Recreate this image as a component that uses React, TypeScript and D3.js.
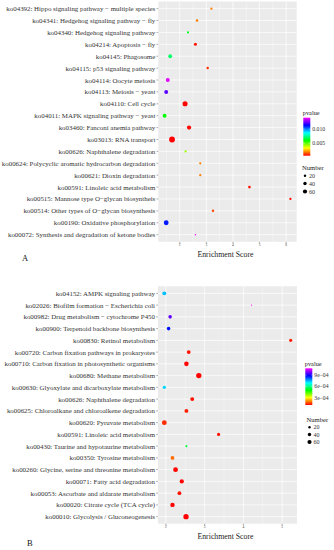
import * as d3 from "d3"

// Panel A
const termsA = [
  "ko04392: Hippo signaling pathway \u2212 multiple species",
  "ko04341: Hedgehog signaling pathway \u2212 fly",
  "ko04340: Hedgehog signaling pathway",
  "ko04214: Apoptosis \u2212 fly",
  "ko04145: Phagosome",
  "ko04115: p53 signaling pathway",
  "ko04114: Oocyte meiosis",
  "ko04113: Meiosis \u2212 yeast",
  "ko04110: Cell cycle",
  "ko04011: MAPK signaling pathway \u2212 yeast",
  "ko03460: Fanconi anemia pathway",
  "ko03013: RNA transport",
  "ko00626: Naphthalene degradation",
  "ko00624: Polycyclic aromatic hydrocarbon degradation",
  "ko00621: Dioxin degradation",
  "ko00591: Linoleic acid metabolism",
  "ko00515: Mannose type O\u2212glycan biosyntheis",
  "ko00514: Other types of O\u2212glycan biosynthesis",
  "ko00190: Oxidative phosphorylation",
  "ko00072: Synthesis and degradation of ketone bodies",
]
const scoreA = [3.19, 2.65, 2.31, 2.59, 1.64, 3.05, 1.55, 1.49, 2.2, 1.43, 2.35, 1.71, 2.22, 2.77, 2.77, 4.62, 6.16, 3.25, 1.49, 2.59]
const pvalA = [0.002, 0.002, 0.0063, 0.0009, 0.0071, 0.0012, 0.0137, 0.0123, 0.0007, 0.006, 0.0008, 0.0007, 0.0044, 0.002, 0.002, 0.0009, 0.0008, 0.0015, 0.0111, 0.014]
const numberA = [10, 12, 9, 18, 28, 12, 30, 30, 50, 30, 35, 65, 10, 10, 10, 14, 10, 12, 45, 4]
const ticksA = [2, 3, 4, 5, 6]
const pTicksA = [0.005, 0.01]

// Panel B
const termsB = [
  "ko04152: AMPK signaling pathway",
  "ko02026: Biofilm formation \u2212 Escherichia coli",
  "ko00982: Drug metabolism \u2212 cytochrome P450",
  "ko00900: Terpenoid backbone biosynthesis",
  "ko00830: Retinol metabolism",
  "ko00720: Carbon fixation pathways in prokaryotes",
  "ko00710: Carbon fixation in photosynthetic organisms",
  "ko00680: Methane metabolism",
  "ko00630: Glyoxylate and dicarboxylate metabolism",
  "ko00626: Naphthalene degradation",
  "ko00625: Chloroalkane and chloroalkene degradation",
  "ko00620: Pyruvate metabolism",
  "ko00591: Linoleic acid metabolism",
  "ko00430: Taurine and hypotaurine metabolism",
  "ko00350: Tyrosine metabolism",
  "ko00260: Glycine, serine and threonine metabolism",
  "ko00071: Fatty acid degradation",
  "ko00053: Ascorbate and aldarate metabolism",
  "ko00020: Citrate cycle (TCA cycle)",
  "ko00010: Glycolysis / Gluconeogenesis",
]
const scoreB = [1.96, 4.21, 2.11, 2.07, 5.22, 2.59, 2.53, 2.85, 1.96, 2.68, 2.53, 1.96, 3.36, 2.53, 2.17, 2.25, 2.41, 2.35, 2.17, 2.52]
const pvalB = [0.00074, 0.00108, 0.00096, 0.00087, 0.00013, 0.00012, 0.00011, 0.000107, 0.00072, 0.00012, 0.00013, 0.00014, 0.00012, 0.00055, 0.00019, 0.00011, 0.00011, 0.00012, 0.00011, 0.000107]
const numberB = [30, 3, 25, 25, 20, 28, 40, 55, 22, 30, 30, 45, 20, 8, 28, 45, 35, 28, 38, 55]
const ticksB = [2, 3, 4, 5]
const pTicksB = [0.0003, 0.0006, 0.0009]

const sizeLegend = [20, 40, 60]

const FONT = "Liberation Serif, Times New Roman, serif"

interface Box {
  left: number
  right: number
  top: number
  bottom: number
}

interface PanelProps {
  id: string
  terms: string[]
  scores: number[]
  pvals: number[]
  numbers: number[]
  ticks: number[]
  pTicks: number[]
  pFormat: (v: number) => string
  box: Box
  bar: { x: number; top: number; bottom: number; titleY: number }
  sizeLeg: { x: number; titleY: number; rows: number[] }
}

const rScale = d3.scaleSqrt().domain([0, 65]).range([0, 2.9])
const hueColor = (f: number) => d3.hsl(f * 300, 1, 0.5).formatHex()

function Panel({ id, terms, scores, pvals, numbers, ticks, pTicks, pFormat, box, bar, sizeLeg }: PanelProps) {
  const [lo, hi] = d3.extent(scores) as [number, number]
  const pad = (hi - lo) * 0.05
  const x = d3.scaleLinear().domain([lo - pad, hi + pad]).range([box.left, box.right])
  const y = d3.scalePoint<string>().domain(terms).range([box.top, box.bottom]).padding(0.6)
  const [pMin, pMax] = d3.extent(pvals) as [number, number]
  const pFrac = d3.scaleLinear().domain([pMin, pMax]).range([0, 1])
  const pY = d3.scaleLinear().domain([pMin, pMax]).range([bar.bottom, bar.top])

  // minor grid lines sit halfway between the major ticks
  const minor = d3.range(Math.floor(x.domain()[0]) + 0.5, x.domain()[1], 1).filter((v) => v > x.domain()[0])
  const stops = d3.range(0, 1.0001, 0.05)
  const rows = terms.map((t, i) => ({ t, s: scores[i], p: pvals[i], n: numbers[i] }))

  return (
    <g>
      <defs>
        <linearGradient id={`grad-${id}`} x1="0" y1="1" x2="0" y2="0">
          {stops.map((f) => (
            <stop key={f} offset={f} stopColor={hueColor(f)} />
          ))}
        </linearGradient>
      </defs>
      <rect x={box.left} y={box.top} width={box.right - box.left} height={box.bottom - box.top} fill="#EBEBEB" />
      {minor.map((v) => (
        <line key={`m${v}`} x1={x(v)} x2={x(v)} y1={box.top} y2={box.bottom} stroke="#fff" strokeWidth={0.35} />
      ))}
      {ticks.map((v) => (
        <line key={`t${v}`} x1={x(v)} x2={x(v)} y1={box.top} y2={box.bottom} stroke="#fff" strokeWidth={0.7} />
      ))}
      {terms.map((t) => (
        <line key={`h${t}`} x1={box.left} x2={box.right} y1={y(t)} y2={y(t)} stroke="#fff" strokeWidth={0.7} />
      ))}
      {rows.map((d) => (
        <circle key={`c${d.t}`} cx={x(d.s)} cy={y(d.t)} r={rScale(d.n)} fill={hueColor(pFrac(d.p))} />
      ))}
      {/* y axis */}
      {terms.map((t) => (
        <g key={`l${t}`}>
          <line x1={box.left - 1.8} x2={box.left} y1={y(t)} y2={y(t)} stroke="#333" strokeWidth={0.4} />
          <text x={box.left - 3} y={y(t)} textAnchor="end" dominantBaseline="central" fontSize={6.9} fill="#333" fontFamily={FONT}>
            {t}
          </text>
        </g>
      ))}
      {/* x axis */}
      {ticks.map((v) => (
        <g key={`x${v}`}>
          <line x1={x(v)} x2={x(v)} y1={box.bottom} y2={box.bottom + 1.8} stroke="#333" strokeWidth={0.4} />
          <text x={x(v)} y={box.bottom + 4.5} textAnchor="middle" fontSize={3.6} fill="#4d4d4d" fontFamily={FONT}>
            {v}
          </text>
        </g>
      ))}
      <text x={(box.left + box.right) / 2 - 2} y={box.bottom + 15} textAnchor="middle" fontSize={7.8} fill="#222" fontFamily={FONT}>
        Enrichment Score
      </text>
      {/* pvalue legend */}
      <text x={bar.x - 0.5} y={bar.titleY} fontSize={6.3} fill="#222" fontFamily={FONT}>
        pvalue
      </text>
      <rect x={bar.x} y={bar.top} width={7} height={bar.bottom - bar.top} fill={`url(#grad-${id})`} />
      {pTicks.map((v) => (
        <g key={`p${v}`}>
          <line x1={bar.x} x2={bar.x + 1.4} y1={pY(v)} y2={pY(v)} stroke="#fff" strokeWidth={0.4} />
          <line x1={bar.x + 5.6} x2={bar.x + 7} y1={pY(v)} y2={pY(v)} stroke="#fff" strokeWidth={0.4} />
          <text x={bar.x + 9} y={pY(v)} dominantBaseline="central" fontSize={5.7} fill="#333" fontFamily={FONT}>
            {pFormat(v)}
          </text>
        </g>
      ))}
      {/* Number legend */}
      <text x={sizeLeg.x - 3} y={sizeLeg.titleY} fontSize={6.6} fill="#222" fontFamily={FONT}>
        Number
      </text>
      {sizeLegend.map((n, i) => (
        <g key={`s${n}`}>
          <circle cx={sizeLeg.x} cy={sizeLeg.rows[i]} r={rScale(n) * 0.75} fill="#000" />
          <text x={sizeLeg.x + 4} y={sizeLeg.rows[i]} dominantBaseline="central" fontSize={6} fill="#333" fontFamily={FONT}>
            {n}
          </text>
        </g>
      ))}
    </g>
  )
}

const fmtA = (v: number) => d3.format(".3f")(v)
const fmtB = (v: number) => d3.format(".0e")(v).replace("e-4", "e\u221204")

export default function App() {
  return (
    <div style={{ position: "absolute", left: 0, top: 0 }}>
      <svg width={334} height={550} style={{ display: "block", background: "#fff" }}>
        <Panel
          id="a"
          terms={termsA}
          scores={scoreA}
          pvals={pvalA}
          numbers={numberA}
          ticks={ticksA}
          pTicks={pTicksA}
          pFormat={fmtA}
          box={{ left: 158.3, right: 296.7, top: 1.5, bottom: 241.8 }}
          bar={{ x: 303.3, top: 117.7, bottom: 155.7, titleY: 115 }}
          sizeLeg={{ x: 305, titleY: 169.5, rows: [175.7, 183.5, 191.5] }}
        />
        <Panel
          id="b"
          terms={termsB}
          scores={scoreB}
          pvals={pvalB}
          numbers={numberB}
          ticks={ticksB}
          pTicks={pTicksB}
          pFormat={fmtB}
          box={{ left: 158, right: 297, top: 286.3, bottom: 523.7 }}
          bar={{ x: 305.3, top: 368.3, bottom: 405, titleY: 366 }}
          sizeLeg={{ x: 309.5, titleY: 421.5, rows: [427.3, 434.5, 442] }}
        />
        <text x={22} y={261} fontSize={8.5} fill="#111" fontFamily={FONT}>A</text>
        <text x={27} y={546} fontSize={8.5} fill="#111" fontFamily={FONT}>B</text>
      </svg>
    </div>
  )
}
